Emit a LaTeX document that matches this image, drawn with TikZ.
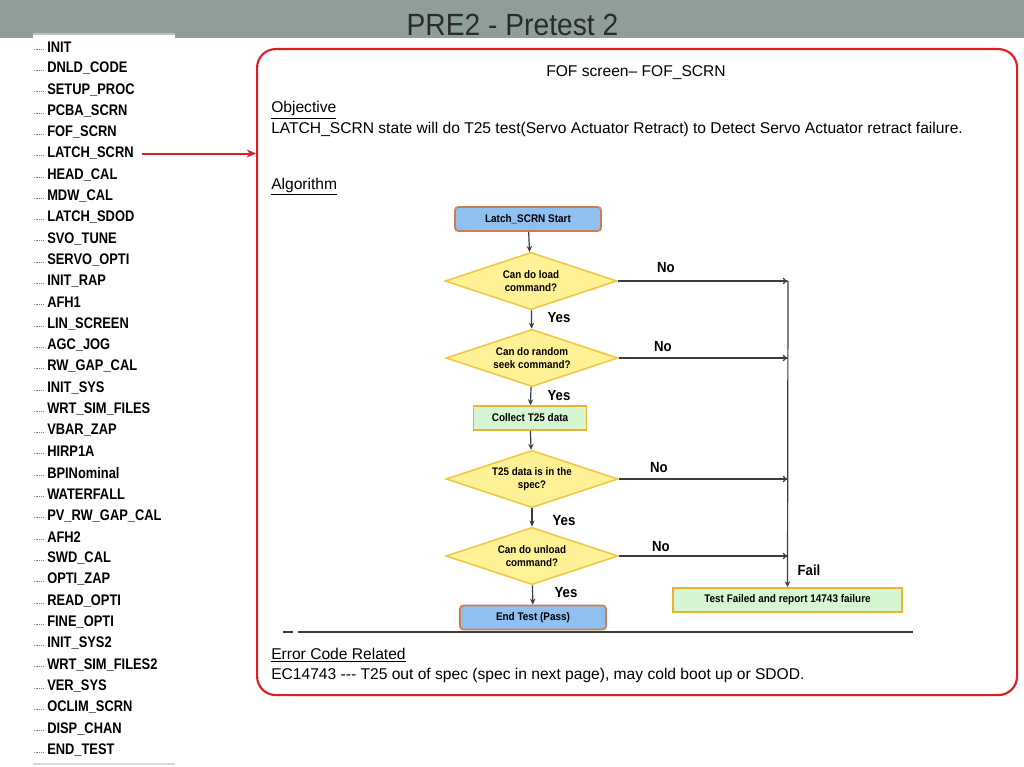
\documentclass[tikz,border=0pt]{standalone}
\usepackage{fontspec}
\setmainfont{Liberation Sans}
\newfontfamily\titlefont[FakeStretch=0.92]{Liberation Sans}
\newfontfamily\listfont[FakeStretch=0.84]{Liberation Sans Bold}
\newfontfamily\flowfont[FakeStretch=0.9]{Liberation Sans Bold}
\usetikzlibrary{shapes.geometric,arrows.meta}
\definecolor{band}{RGB}{143,158,150}
\definecolor{titletext}{RGB}{40,44,44}
\definecolor{frame}{RGB}{222,30,36}
\definecolor{bluefill}{RGB}{143,192,240}
\definecolor{bluebord}{RGB}{205,125,80}
\definecolor{yelfill}{RGB}{255,242,150}
\definecolor{yelbord}{RGB}{240,200,70}
\definecolor{grnfill}{RGB}{214,246,210}
\definecolor{grnbord}{RGB}{232,180,50}
\definecolor{linegray}{RGB}{60,60,60}
\tikzset{
  listitem/.style={anchor=west, inner sep=0pt, font=\listfont\fontsize{11.5}{12}\selectfont},
  bodytext/.style={anchor=base west, inner sep=0pt, font=\fontsize{11.7}{13}\selectfont},
  bluebox/.style={draw=bluebord, fill=bluefill, line width=1.3pt, rounded corners=2.5pt, minimum width=109.5pt, minimum height=18pt, inner sep=0pt, font=\flowfont\fontsize{8.3}{9}\selectfont},
  greenbox/.style={draw=grnbord, fill=grnfill, line width=1.2pt, minimum height=18pt, inner sep=0pt, font=\flowfont\fontsize{8.3}{9}\selectfont},
  decision/.style={diamond, draw=yelbord, fill=yelfill, line width=1.2pt, aspect=3, minimum width=129pt, minimum height=43pt, inner sep=0pt, align=center, font=\flowfont\fontsize{8.2}{10}\selectfont},
  flow/.style={draw=linegray, line width=0.9pt, -{Stealth[length=4.5pt,width=4pt]}},
  noflow/.style={draw=linegray, line width=0.9pt, -{To[length=4pt,width=5pt]}},
  yesno/.style={inner sep=0pt, font=\flowfont\fontsize{11}{12}\selectfont}
}
\begin{document}
\begin{tikzpicture}[x=0.75pt,y=-0.75pt]
\useasboundingbox (0,0) rectangle (1024,767);
% header band
\fill[band] (0,0) rectangle (1024,38);
\node[inner sep=0pt, text=titletext, font=\titlefont\fontsize{23}{25}\selectfont] (title) at (512.5,24.8) {PRE2 - Pretest 2};
% left panel
\fill[white] (33,33) rectangle (175,764);
\draw[gray!50, line width=1.2pt] (33,34) -- (175,34);
\draw[gray!30, line width=1.2pt] (33,764) -- (175,764);
\foreach \t [count=\i] in {INIT,DNLD\_CODE,SETUP\_PROC,PCBA\_SCRN,FOF\_SCRN,LATCH\_SCRN,HEAD\_CAL,MDW\_CAL,LATCH\_SDOD,SVO\_TUNE,SERVO\_OPTI,INIT\_RAP,AFH1,LIN\_SCREEN,AGC\_JOG,RW\_GAP\_CAL,INIT\_SYS,WRT\_SIM\_FILES,VBAR\_ZAP,HIRP1A,BPINominal,WATERFALL,PV\_RW\_GAP\_CAL,AFH2,SWD\_CAL,OPTI\_ZAP,READ\_OPTI,FINE\_OPTI,INIT\_SYS2,WRT\_SIM\_FILES2,VER\_SYS,OCLIM\_SCRN,DISP\_CHAN,END\_TEST}{
  \node[listitem] (item\i) at (47,{47+(\i-1)*21.3}) {\t};
  \draw[gray, line width=0.6pt, dash pattern=on 0.8pt off 0.8pt] ([xshift=-9.5pt,yshift=-1.6pt]item\i.west) -- ([xshift=-1.5pt,yshift=-1.6pt]item\i.west);
}
% red frame
\node[draw=frame, line width=1.6pt, rounded corners=14pt, minimum width=570pt, minimum height=484.5pt, inner sep=0pt, anchor=north west] (box) at (256,48) {};
\draw[frame, line width=1.5pt, -{Stealth[length=7pt,width=6pt]}] ([xshift=6pt]item6.east) -- (box.west |- item6.east);
% texts
\node[anchor=base, inner sep=0pt, font=\fontsize{11.7}{13}\selectfont] (head) at (636,76) {FOF screen– FOF\_SCRN};
\node[bodytext] (obj) at (271,113) {\underline{Objective}};
\node[bodytext] (objt) at (271,133) {LATCH\_SCRN state will do T25 test(Servo Actuator Retract) to Detect Servo Actuator retract failure.};
\node[bodytext] (alg) at (271,189) {\underline{Algorithm}};
\node[bodytext] (err) at (271,659) {\underline{Error Code Related}};
\node[bodytext] (errt) at (271,679) {EC14743 -{}-{}- T25 out of spec (spec in next page), may cold boot up or SDOD.};
% flowchart
\node[bluebox] (start) at (528,219) {Latch\_SCRN Start};
\node[decision] (d1) at (531,281) {Can do load\\command?};
\node[decision] (d2) at (532,358) {Can do random\\seek command?};
\node[greenbox, minimum width=84.5pt] (collect) at (530,418) {Collect T25 data};
\node[decision] (d3) at (532,479) {T25 data is in the\\spec?};
\node[decision] (d4) at (532,556) {Can do unload\\command?};
\node[bluebox] (endt) at (533,617.5) {End Test (Pass)};
\node[greenbox, minimum width=171.5pt] (fail) at (787.5,600) {Test Failed and report 14743 failure};
\coordinate (rail) at (788,281);
\draw[flow] (start) -- (d1);
\draw[flow] (d1) -- (d2);
\draw[flow] (d2) -- (collect);
\draw[flow] (collect) -- (d3);
\draw[flow] (d3) -- (d4);
\draw[flow] (d4) -- (endt);
\draw[noflow] (d1.east) -- (rail |- d1.east);
\draw[noflow] (d2.east) -- (rail |- d2.east);
\draw[noflow] (d3.east) -- (rail |- d3.east);
\draw[noflow] (d4.east) -- (rail |- d4.east);
\draw[flow] (rail) -- (fail.north);
\node[yesno] (n1) at (666,268) {No};
\node[yesno] (n2) at (663,347) {No};
\node[yesno] (n3) at (659,468) {No};
\node[yesno] (n4) at (661,547) {No};
\node[yesno] (y1) at (559,318) {Yes};
\node[yesno] (y2) at (559,396) {Yes};
\node[yesno] (y3) at (564,521) {Yes};
\node[yesno] (y4) at (566,593) {Yes};
\node[yesno] (fl) at (809,570) {Fail};
% separator line
\coordinate (s0) at (283,632);
\coordinate (s1) at (293,632);
\coordinate (s2) at (298,632);
\coordinate (s3) at (913,632);
\draw[linegray, line width=1.2pt] (s0) -- (s1);
\draw[linegray, line width=0.9pt] (s2) -- (s3);
\end{tikzpicture}
\end{document}
